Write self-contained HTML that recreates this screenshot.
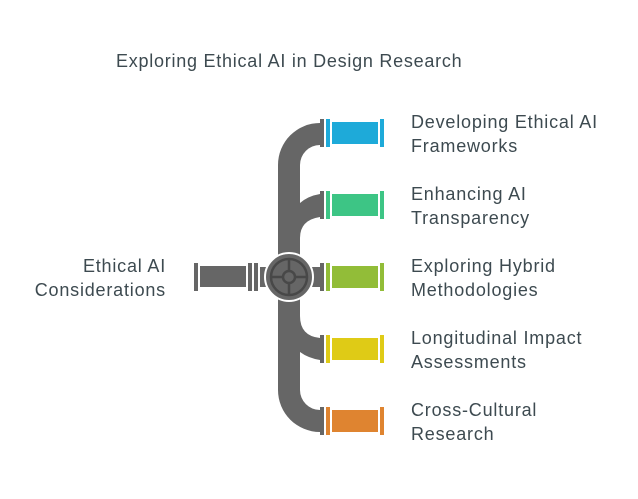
<!DOCTYPE html>
<html><head><style>
body{margin:0;background:#fff;}
.t{font-family:"Liberation Sans",sans-serif;fill:#3d4a50;font-size:18px;letter-spacing:0.8px;}
</style></head><body>
<svg width="638" height="494" viewBox="0 0 638 494" xmlns="http://www.w3.org/2000/svg">
<text class="t" x="116" y="67" font-size="17.5" style="letter-spacing:0.75px">Exploring Ethical AI in Design Research</text>
<g fill="#666666">
<path d="M320,123 A42,42 0 0 0 278,165 L278,390 A42,42 0 0 0 320,432 L320,410 A20,20 0 0 1 300,390 L300,165 A20,20 0 0 1 320,145 Z"/>
<path d="M300,203 Q308,196 320,194 L320,217 Q300,220 300,238 Z"/>
<path d="M300,316 Q300,336 320,338 L320,360 Q308,358 300,352 Z"/>
<rect x="194" y="263" width="4" height="28"/>
<rect x="200" y="266" width="46" height="21"/>
<rect x="248" y="263" width="4" height="28"/>
<rect x="254" y="263" width="4" height="28"/>
<rect x="260" y="267" width="8" height="20"/>
<rect x="310" y="267" width="10" height="20"/>
<rect x="320" y="119" width="4" height="28"/>
<rect x="320" y="191" width="4" height="28"/>
<rect x="320" y="263" width="4" height="28"/>
<rect x="320" y="335" width="4" height="28"/>
<rect x="320" y="407" width="4" height="28"/>
</g>
<circle cx="289" cy="277" r="24" fill="#666" stroke="#fff" stroke-width="2"/>
<circle cx="289" cy="277" r="18" fill="none" stroke="#484848" stroke-width="2.5"/>
<g stroke="#484848" stroke-width="2.5">
<line x1="271" y1="277" x2="283" y2="277"/><line x1="295" y1="277" x2="307" y2="277"/>
<line x1="289" y1="259" x2="289" y2="271"/><line x1="289" y1="283" x2="289" y2="295"/>
</g>
<circle cx="289" cy="277" r="6" fill="none" stroke="#484848" stroke-width="2.5"/>
<g fill="#1eaad9"><rect x="326" y="119" width="4" height="28"/><rect x="332" y="122" width="46" height="22"/><rect x="380" y="119" width="4" height="28"/></g>
<g fill="#3dc585"><rect x="326" y="191" width="4" height="28"/><rect x="332" y="194" width="46" height="22"/><rect x="380" y="191" width="4" height="28"/></g>
<g fill="#92bd38"><rect x="326" y="263" width="4" height="28"/><rect x="332" y="266" width="46" height="22"/><rect x="380" y="263" width="4" height="28"/></g>
<g fill="#dfcb16"><rect x="326" y="335" width="4" height="28"/><rect x="332" y="338" width="46" height="22"/><rect x="380" y="335" width="4" height="28"/></g>
<g fill="#df8430"><rect x="326" y="407" width="4" height="28"/><rect x="332" y="410" width="46" height="22"/><rect x="380" y="407" width="4" height="28"/></g>
<text class="t" x="411" y="128">Developing Ethical AI</text>
<text class="t" x="411" y="152">Frameworks</text>
<text class="t" x="411" y="200">Enhancing AI</text>
<text class="t" x="411" y="224">Transparency</text>
<text class="t" x="411" y="272">Exploring Hybrid</text>
<text class="t" x="411" y="296">Methodologies</text>
<text class="t" x="411" y="344">Longitudinal Impact</text>
<text class="t" x="411" y="368">Assessments</text>
<text class="t" x="411" y="416">Cross-Cultural</text>
<text class="t" x="411" y="440">Research</text>
<text class="t" x="166" y="272" text-anchor="end">Ethical AI</text>
<text class="t" x="166" y="296" text-anchor="end">Considerations</text>
</svg>
</body></html>
